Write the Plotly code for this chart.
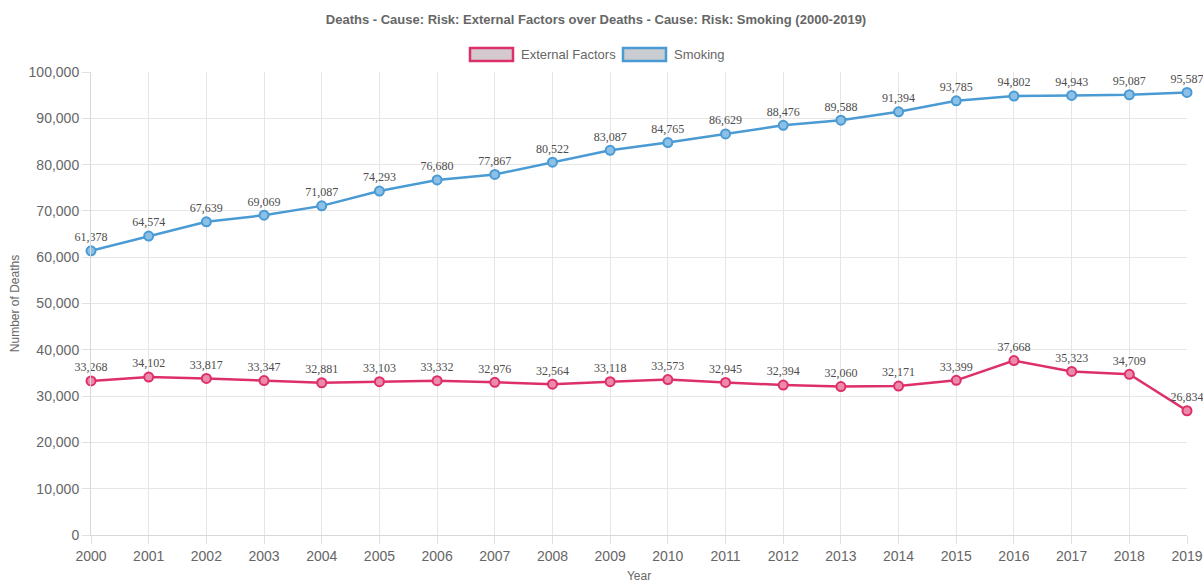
import plotly.graph_objects as go

years = list(range(2000, 2020))
external = [33268, 34102, 33817, 33347, 32881, 33103, 33332, 32976, 32564, 33118,
            33573, 32945, 32394, 32060, 32171, 33399, 37668, 35323, 34709, 26834]
smoking = [61378, 64574, 67639, 69069, 71087, 74293, 76680, 77867, 80522, 83087,
           84765, 86629, 88476, 89588, 91394, 93785, 94802, 94943, 95087, 95587]
y_ticks = list(range(0, 100001, 10000))

pink = "#de3068"
blue = "#4a9ad4"

# body margin is removed in the page, so figure pixels == screenshot pixels
W, H = 1203, 583
PL, PR, PT, PB = 91, 1187, 72, 535  # plot area in pixels


def px(x):
    return (x - PL) / (PR - PL)


def py(y):
    return (PB - y) / (PB - PT)


fig = go.Figure()
for name, vals, col, fill in [("External Factors", external, pink, "#ec8aab"),
                              ("Smoking", smoking, blue, "#8cc0e6")]:
    fig.add_trace(go.Scatter(
        x=years, y=vals, name=name, mode="lines+markers+text",
        line=dict(color=col, width=2.5),
        marker=dict(size=9, color=fill, line=dict(color=col, width=2)),
        text=[f"{v:,}" for v in vals], textposition="top center",
        textfont=dict(family="Liberation Serif", size=12, color="#4d4d4d"),
        cliponaxis=False, showlegend=False, hoverinfo="x+y+name",
    ))

# Chart.js-style legend boxes
legend_items = [("External Factors", pink, "#d4c9ce", 470, 513, 519),
                ("Smoking", blue, "#c9cdd1", 623, 666, 672)]
for label, col, fill, x0, x1, tx in legend_items:
    fig.add_shape(type="rect", xref="paper", yref="paper",
                  x0=px(x0), x1=px(x1), y0=py(61), y1=py(48),
                  line=dict(color=col, width=2.5), fillcolor=fill)
    fig.add_annotation(xref="paper", yref="paper", x=px(tx), y=py(55),
                       text=label, showarrow=False, xanchor="left", yanchor="middle",
                       font=dict(family="Liberation Sans", size=13, color="#666"))

fig.update_layout(
    width=W, height=H,
    margin=dict(l=PL, r=W - PR, t=PT, b=H - PB, autoexpand=False),
    paper_bgcolor="white", plot_bgcolor="white",
    title=dict(text="<b>Deaths - Cause: Risk: External Factors over Deaths - Cause: Risk: Smoking (2000-2019)</b>",
               x=px(596), xref="paper", xanchor="center",
               y=1 - 19 / H, yanchor="middle",
               font=dict(family="Liberation Sans", size=13, color="#666")),
    font=dict(family="Liberation Sans", size=12, color="#666"),
)
fig.update_xaxes(range=[2000, 2019], tickmode="array", tickvals=years,
                 automargin=False,
                 showgrid=True, gridcolor="#e6e6e6", gridwidth=1,
                 ticks="outside", ticklen=8, tickcolor="#e0e0e0",
                 showline=True, linecolor="#d8d8d8", zeroline=False,
                 tickfont=dict(size=14, color="#666"),
                 title=dict(text="Year", font=dict(size=12, color="#666"), standoff=15))
fig.update_yaxes(range=[0, 100000], tickmode="array", tickvals=y_ticks,
                 automargin=False,
                 tickformat=",", showgrid=True, gridcolor="#e6e6e6", gridwidth=1,
                 ticks="outside", ticklen=8, tickcolor="#e0e0e0",
                 showline=True, linecolor="#d8d8d8", zeroline=False,
                 tickfont=dict(size=14, color="#666"),
                 title=dict(text="Number of Deaths", font=dict(size=12, color="#666"), standoff=6))

fig.write_html("out.html", config={"displayModeBar": False},
               post_script="document.body.style.margin='0';document.body.style.overflow='hidden';")
